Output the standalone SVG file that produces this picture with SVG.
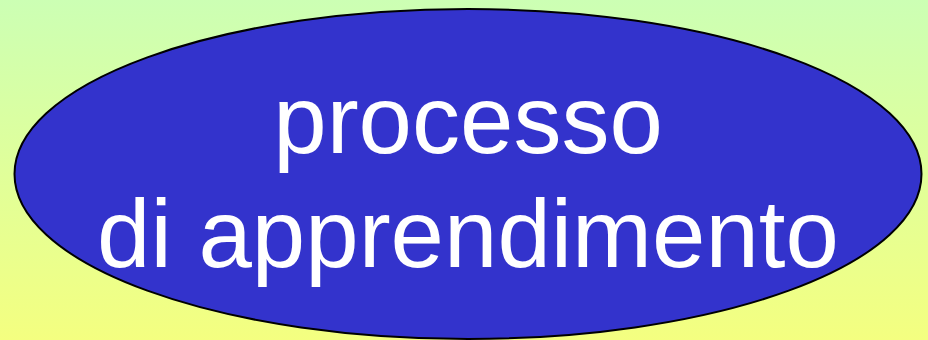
<svg xmlns="http://www.w3.org/2000/svg" width="928" height="340" viewBox="0 0 928 340">
<defs>
<linearGradient id="bg" x1="0" y1="0" x2="0" y2="1">
<stop offset="0" stop-color="#ccffb4"/>
<stop offset="1" stop-color="#f4ff80"/>
</linearGradient>
<style>
.lbl{font-family:"Liberation Sans",Arial,sans-serif;font-size:96px;fill:#ffffff;text-anchor:middle}
</style>
</defs>
<rect x="0" y="0" width="928" height="340" fill="url(#bg)"/>
<g id="node-processo">
<ellipse cx="468" cy="174" rx="453.5" ry="165" fill="#3333cc" stroke="#000000" stroke-width="2"/>
<text class="lbl" x="468" y="153">processo</text>
<text class="lbl" x="468" y="267">di apprendimento</text>
</g>
<g id="connectors"/>
</svg>
